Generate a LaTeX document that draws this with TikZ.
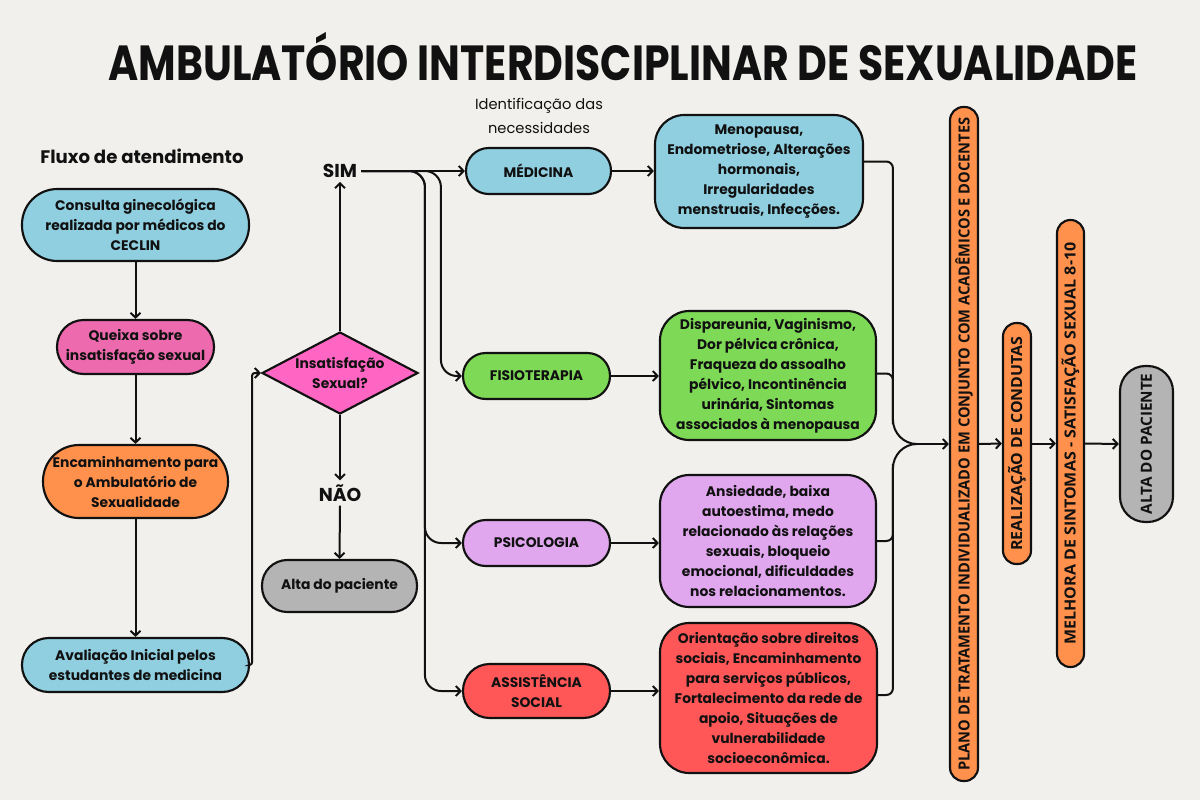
\documentclass[tikz,border=0pt]{standalone}
\usepackage{fontspec}
\setmainfont{Poppins}[BoldFont=* Bold]
\newfontfamily\barfam{Open Sans}
\usetikzlibrary{arrows.meta,calc,shapes.geometric}
\definecolor{bg}{HTML}{F1F0EC}
\definecolor{lblue}{HTML}{8FCFE0}
\definecolor{qpink}{HTML}{EE6AAF}
\definecolor{dpink}{HTML}{FF66C4}
\definecolor{orng}{HTML}{FF914D}
\definecolor{gry}{HTML}{B4B4B4}
\definecolor{grn}{HTML}{7ED957}
\definecolor{lav}{HTML}{E0A6EE}
\definecolor{redb}{HTML}{FF5757}
\definecolor{ink}{HTML}{111111}
\newcommand\boxfont{\bfseries\fontsize{10.4pt}{15pt}\selectfont}
\newcommand\vtxt[2]{\resizebox{#1}{\height}{\barfam\bfseries\fontsize{11.5pt}{12pt}\selectfont #2}}
\begin{document}
\begin{tikzpicture}[x=0.75pt,y=-0.75pt,
  pill/.style={draw=ink, line width=1.6pt, rectangle, rounded corners=#1, inner sep=0pt, align=center, font=\boxfont, text=ink},
  pill/.default=17pt,
  det/.style={draw=ink, line width=1.6pt, rectangle, rounded corners=22pt, inner sep=0pt, align=center, font=\boxfont, text=ink},
  bar/.style={draw=ink, line width=1.6pt, rectangle, rounded corners=#1, inner sep=0pt},
  bar/.default=10pt,
  conn/.style={draw=ink, line width=1.5pt, -{Straight Barb[length=3.6pt,width=7.5pt]}},
  wire/.style={draw=ink, line width=1.5pt},
  lbl/.style={font=\bfseries\fontsize{14pt}{16pt}\selectfont, text=ink, inner sep=3pt}
]
\useasboundingbox[fill=bg] (0,0) rectangle (1200,800);

% title
\node[inner sep=0pt, text=ink] (title) at (623,57) {\resizebox{772pt}{\height}{\bfseries\fontsize{37pt}{40pt}\selectfont AMBULATÓRIO INTERDISCIPLINAR DE SEXUALIDADE}};

% left column
\node[font=\bfseries\fontsize{13.6pt}{15pt}\selectfont, text=ink] (fluxo) at (142,156) {Fluxo de atendimento};
\node[pill=26.5pt, fill=lblue, minimum width=170.25pt, minimum height=54pt] (consulta) at (135.5,225) {Consulta ginecológica\\realizada por médicos do\\CECLIN};
\node[pill=20pt, fill=qpink, minimum width=117.75pt, minimum height=40.5pt] (queixa) at (135.5,347) {Queixa sobre\\insatisfação sexual};
\node[pill=27pt, fill=orng, minimum width=138.75pt, minimum height=54.75pt] (enc) at (135.5,481.5) {Encaminhamento para\\o Ambulatório de\\Sexualidade};
\node[pill=20pt, fill=lblue, minimum width=170.25pt, minimum height=40.5pt] (aval) at (135.5,665) {Avaliação Inicial pelos\\estudantes de medicina};

\draw[conn] (consulta.south) -- (queixa.north);
\draw[conn] (queixa.south) -- (enc.north);
\draw[conn] (enc.south) -- (aval.north);

% decision
\node[diamond, draw=ink, line width=1.6pt, fill=dpink, minimum width=117pt, minimum height=61.5pt, inner sep=0pt] (diam) at (340,373) {};
\node[font=\boxfont, align=center, text=ink, inner sep=0pt] (diamt) at (diam) {Insatisfação\\Sexual?};
\draw[conn, rounded corners=2pt] (aval.east) -- ++(2,0) |- (diam.west);

\node[lbl] (sim) at (340,171) {SIM};
\node[lbl] (nao) at (340,493) {NÃO};
\node[pill=19pt, fill=gry, minimum width=116.25pt, minimum height=39pt] (altaL) at (339.5,586) {Alta do paciente};
\draw[conn] (diam.north) -- (sim.south);
\draw[conn] (diam.south) -- (nao.north);
\draw[conn] (nao.south) -- (altaL.north);

% categories
\node[font=\fontsize{11pt}{18pt}\selectfont, align=center, text=ink] (ident) at (539,116) {Identificação das\\necessidades};
\node[pill=17pt, fill=lblue, minimum width=108.75pt, minimum height=34.5pt] (med) at (538.5,171) {MÉDICINA};
\node[pill=17pt, fill=grn, minimum width=110.25pt, minimum height=34.5pt] (fis) at (536.5,376) {FISIOTERAPIA};
\node[pill=17pt, fill=lav, minimum width=110.25pt, minimum height=34.5pt] (psi) at (536.5,543) {PSICOLOGIA};
\node[pill=20pt, fill=redb, minimum width=110.25pt, minimum height=40.5pt] (asi) at (536.5,691) {ASSISTÊNCIA\\SOCIAL};

\draw[conn] (sim.east) -- (med.west);
\draw[conn, rounded corners=12pt] (sim.east) -| ($(fis.west)+(-21,0)$) -- (fis.west);
\draw[conn, rounded corners=12pt] (sim.east) -| ($(psi.west)+(-37,0)$) -- (psi.west);
\draw[conn, rounded corners=12pt] (sim.east) -| ($(asi.west)+(-37,0)$) -- (asi.west);

% details
\node[det, fill=lblue, minimum width=156pt, minimum height=84.75pt] (medD) at (759,171.5) {Menopausa,\\Endometriose, Alterações\\hormonais,\\Irregularidades\\menstruais, Infecções.};
\node[det, fill=grn, minimum width=162pt, minimum height=96.75pt] (fisD) at (768,375.5) {Dispareunia, Vaginismo,\\Dor pélvica crônica,\\Fraqueza do assoalho\\pélvico, Incontinência\\urinária, Sintomas\\associados à menopausa};
\node[det, fill=lav, minimum width=162pt, minimum height=99pt] (psiD) at (768,541) {Ansiedade, baixa\\autoestima, medo\\relacionado às relações\\sexuais, bloqueio\\emocional, dificuldades\\nos relacionamentos.};
\node[det, fill=redb, minimum width=162.75pt, minimum height=112.5pt] (asiD) at (768.5,698) {Orientação sobre direitos\\sociais, Encaminhamento\\para serviços públicos,\\Fortalecimento da rede de\\apoio, Situações de\\vulnerabilidade\\socioeconômica.};

\draw[conn] (med.east) -- (med.east -| medD.west);
\draw[conn] (fis.east) -- (fis.east -| fisD.west);
\draw[conn] (psi.east) -- (psi.east -| psiD.west);
\draw[conn] (asi.east) -- (asi.east -| asiD.west);

% bars
\node[bar=10pt, fill=orng, minimum width=21pt, minimum height=505.5pt] (plano) at (964,444) {};
\node[rotate=90, inner sep=0pt, text=ink] (planot) at (plano) {\vtxt{490pt}{PLANO DE TRATAMENTO INDIVIDUALIZADO EM CONJUNTO COM ACADÊMICOS E DOCENTES}};
\node[bar=10pt, fill=orng, minimum width=21pt, minimum height=180.75pt] (real) at (1017,443.5) {};
\node[rotate=90, inner sep=0pt, text=ink] (realt) at (real) {\vtxt{160.5pt}{REALIZAÇÃO DE CONDUTAS}};
\node[bar=10pt, fill=orng, minimum width=20.25pt, minimum height=335.25pt] (mel) at (1070.5,443.5) {};
\node[rotate=90, inner sep=0pt, text=ink] (melt) at (mel) {\vtxt{301.5pt}{MELHORA DE SINTOMAS - SATISFAÇÃO SEXUAL 8-10}};
\node[bar=19pt, fill=gry, minimum width=39.75pt, minimum height=117pt] (altaR) at (1146.5,444) {};
\node[rotate=90, inner sep=0pt, text=ink] (altaRt) at (altaR) {\vtxt{105.75pt}{ALTA DO PACIENTE}};

% merge bracket
\coordinate (brk) at ($(plano.west)+(-56,0)$);
\coordinate (brkE) at ($(brk)+(24,0)$);
\draw[wire, rounded corners=5pt] ($(medD.east)+(0,-10)$) -| ($(brk)+(0,-24)$);
\draw[wire] ($(brk)+(0,-24.5)$) to[out=-90,in=180] (brkE);
\draw[wire, rounded corners=5pt] ($(fisD.east)+(0,-2)$) -| ($(brk)+(0,-20)$);
\draw[wire, rounded corners=5pt] ($(psiD.east)+(0,0)$) -| ($(brk)+(0,24)$);
\draw[wire] ($(brk)+(0,24.5)$) to[out=90,in=180] (brkE);
\draw[wire, rounded corners=5pt] ($(asiD.east)+(0,-3)$) -| ($(brk)+(0,20)$);
\draw[conn] (brkE) -- (plano.west);

\draw[conn] (plano.east) -- (real.west);
\draw[conn] (real.east) -- (mel.west);
\draw[conn] (mel.east) -- (altaR.west);
\end{tikzpicture}
\end{document}
